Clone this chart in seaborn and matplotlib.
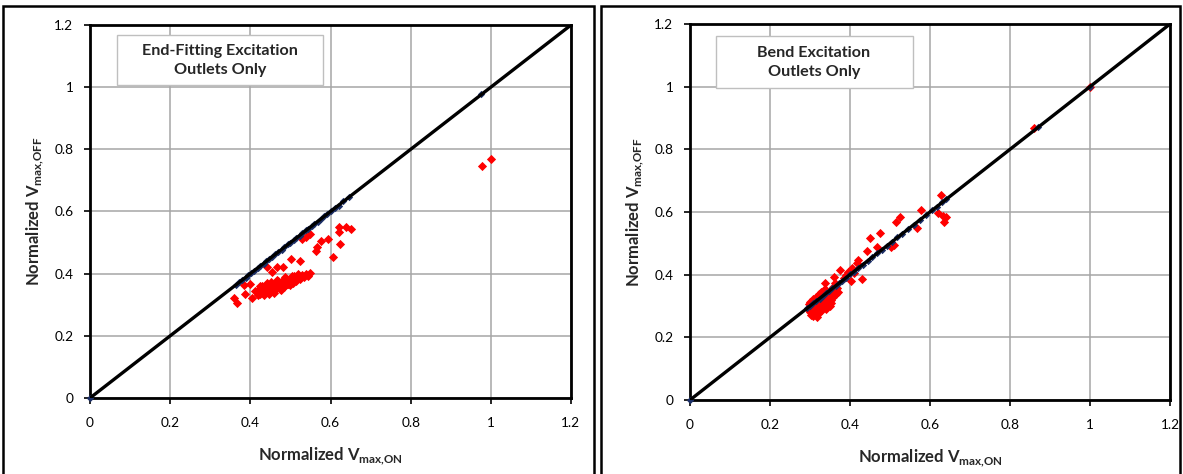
import numpy as np
import pandas as pd
import matplotlib
matplotlib.use("Agg")
import matplotlib.pyplot as plt
import matplotlib.patches as mpatches
import seaborn as sns

# ---------------- data ----------------
ticks = [0, 0.2, 0.4, 0.6, 0.8, 1, 1.2]
tick_labels = ["0", "0.2", "0.4", "0.6", "0.8", "1", "1.2"]

# Left panel: End-Fitting excitation
left_navy_x = [0.000, 0.365, 0.372, 0.380, 0.388, 0.395, 0.402, 0.410, 0.418, 0.425, 0.433,
               0.440, 0.447, 0.455, 0.462, 0.470, 0.478, 0.485, 0.493, 0.500, 0.508,
               0.515, 0.523, 0.530, 0.538, 0.545, 0.553, 0.560, 0.568, 0.576, 0.584,
               0.592, 0.600, 0.610, 0.620, 0.632, 0.645, 0.975]
left_navy_y = [0.000, 0.364, 0.373, 0.381, 0.387, 0.396, 0.403, 0.409, 0.419, 0.426, 0.432,
               0.441, 0.448, 0.454, 0.463, 0.471, 0.477, 0.486, 0.494, 0.499, 0.509,
               0.516, 0.522, 0.531, 0.539, 0.544, 0.554, 0.561, 0.567, 0.577, 0.585,
               0.591, 0.601, 0.611, 0.619, 0.633, 0.646, 0.978]

left_red_x = [0.359, 0.366, 0.383, 0.387, 0.399, 0.405, 0.412,
              0.418, 0.421, 0.424, 0.427, 0.430, 0.432, 0.435, 0.437, 0.440, 0.442, 0.445, 0.447, 0.450,
              0.420, 0.425, 0.428, 0.433, 0.438, 0.441, 0.446, 0.449, 0.452, 0.455,
              0.452, 0.456, 0.459, 0.462, 0.465, 0.468, 0.471, 0.474, 0.477, 0.480,
              0.458, 0.463, 0.467, 0.472, 0.476, 0.481, 0.485, 0.489, 0.493, 0.497,
              0.483, 0.487, 0.491, 0.495, 0.499, 0.503, 0.507, 0.511, 0.515, 0.519,
              0.505, 0.510, 0.515, 0.520, 0.525, 0.530, 0.535, 0.540, 0.545, 0.549,
              0.434, 0.444, 0.451, 0.461, 0.470, 0.479, 0.488, 0.496, 0.504, 0.512,
              0.441, 0.455, 0.466, 0.482, 0.501, 0.524, 0.539, 0.549, 0.528,
              0.563, 0.566, 0.576, 0.595, 0.607, 0.620, 0.621, 0.624, 0.639, 0.651,
              0.978, 1.000]
left_red_y = [0.323, 0.305, 0.364, 0.335, 0.366, 0.321, 0.345,
              0.342, 0.352, 0.335, 0.348, 0.360, 0.338, 0.355, 0.346, 0.362, 0.340, 0.357, 0.349, 0.365,
              0.330, 0.361, 0.344, 0.332, 0.350, 0.370, 0.336, 0.358, 0.344, 0.352,
              0.372, 0.360, 0.348, 0.366, 0.355, 0.375, 0.362, 0.350, 0.370, 0.358,
              0.338, 0.352, 0.380, 0.364, 0.346, 0.372, 0.360, 0.384, 0.368, 0.376,
              0.356, 0.388, 0.366, 0.378, 0.362, 0.382, 0.370, 0.390, 0.376, 0.386,
              0.372, 0.393, 0.380, 0.398, 0.384, 0.396, 0.388, 0.400, 0.394, 0.402,
              0.353, 0.344, 0.368, 0.354, 0.366, 0.378, 0.373, 0.381, 0.391, 0.383,
              0.422, 0.405, 0.422, 0.422, 0.446, 0.441, 0.519, 0.528, 0.512,
              0.474, 0.485, 0.505, 0.512, 0.453, 0.551, 0.535, 0.495, 0.551, 0.543,
              0.746, 0.769]

# Right panel: Bend excitation
right_navy_x = [0.000, 0.292, 0.300, 0.308, 0.316, 0.324, 0.332, 0.340, 0.348, 0.356, 0.364,
                0.372, 0.380, 0.390, 0.400, 0.410, 0.420, 0.432, 0.444, 0.456, 0.468,
                0.480, 0.492, 0.505, 0.518, 0.530, 0.545, 0.560, 0.575, 0.590, 0.605,
                0.618, 0.630, 0.640, 0.870, 1.000]
right_navy_y = [0.000, 0.293, 0.299, 0.309, 0.317, 0.323, 0.333, 0.341, 0.347, 0.357, 0.363,
                0.373, 0.381, 0.389, 0.401, 0.409, 0.421, 0.431, 0.445, 0.455, 0.469,
                0.479, 0.493, 0.504, 0.519, 0.529, 0.546, 0.559, 0.576, 0.589, 0.606,
                0.617, 0.631, 0.641, 0.870, 1.000]

right_red_x = [0.296, 0.299, 0.301, 0.303, 0.305, 0.307, 0.309, 0.311, 0.313, 0.315,
               0.317, 0.319, 0.298, 0.302, 0.306, 0.310, 0.314, 0.318, 0.321, 0.324,
               0.322, 0.326, 0.328, 0.331, 0.333, 0.336, 0.338, 0.341, 0.343, 0.346,
               0.348, 0.351, 0.327, 0.334, 0.339, 0.344, 0.349, 0.353, 0.330, 0.337,
               0.355, 0.358, 0.361, 0.364, 0.367, 0.370, 0.357, 0.363,
               0.300, 0.308, 0.316, 0.323, 0.329, 0.312, 0.319, 0.342, 0.347, 0.352,
               0.3375, 0.360, 0.375, 0.402, 0.429, 0.417, 0.421, 0.443, 0.467, 0.502,
               0.511, 0.475, 0.514, 0.525, 0.567, 0.577, 0.621, 0.628, 0.633, 0.639,
               0.635, 0.395, 0.405, 0.410, 0.385, 0.390, 0.450, 0.860, 1.000]
right_red_y = [0.292, 0.280, 0.300, 0.272, 0.288, 0.268, 0.296, 0.278, 0.285, 0.270,
               0.292, 0.276, 0.305, 0.283, 0.310, 0.290, 0.300, 0.265, 0.286, 0.298,
               0.310, 0.296, 0.322, 0.305, 0.330, 0.300, 0.316, 0.338, 0.310, 0.326,
               0.318, 0.335, 0.345, 0.352, 0.292, 0.305, 0.300, 0.320, 0.286, 0.355,
               0.340, 0.328, 0.350, 0.338, 0.356, 0.345, 0.362, 0.372,
               0.312, 0.322, 0.330, 0.337, 0.343, 0.275, 0.282, 0.316, 0.331, 0.309,
               0.372, 0.392, 0.415, 0.381, 0.385, 0.436, 0.447, 0.477, 0.487, 0.487,
               0.495, 0.534, 0.567, 0.583, 0.548, 0.606, 0.596, 0.654, 0.588, 0.585,
               0.567, 0.410, 0.420, 0.405, 0.390, 0.400, 0.517, 0.868, 1.000]

diag = [0, 1.2]

titles = ["End-Fitting Excitation\nOutlets Only", "Bend Excitation\nOutlets Only"]
xlabel = r"Normalized V$_\mathregular{max{,}ON}$"
ylabel = r"Normalized V$_\mathregular{max{,}OFF}$"

# ---------------- style ----------------
sns.set_theme(style="white")
FONT = ["Lato", "DejaVu Sans"]
plt.rcParams["font.family"] = FONT

RED = "#ff0000"
NAVY = "#1c2f66"
GRID = "#a6a6a6"

W, H = 1183, 474
fig = plt.figure(figsize=(W / 100, H / 100), dpi=100)

# panel borders (figure pixels)
def fig_rect(x0, y0, x1, y1):
    r = mpatches.Rectangle((x0 / W, 1 - y1 / H), (x1 - x0) / W, (y1 - y0) / H,
                           transform=fig.transFigure, fill=False, edgecolor="black",
                           linewidth=1.8, zorder=0)
    fig.patches.append(r)

fig_rect(3, 6, 594, 490)
fig_rect(601, 6, 1180, 490)

axes_px = [(90, 25, 571, 398), (690, 24, 1170, 400)]
box_frac = [(0.056, 0.839, 0.484, 0.973), (0.054, 0.830, 0.465, 0.968)]
text_frac = [(0.27, 0.905), (0.258, 0.898)]
data = [
    (left_navy_x, left_navy_y, left_red_x, left_red_y),
    (right_navy_x, right_navy_y, right_red_x, right_red_y),
]

for i, (x0, y0, x1, y1) in enumerate(axes_px):
    ax = fig.add_axes([x0 / W, 1 - y1 / H, (x1 - x0) / W, (y1 - y0) / H])
    nx, ny, rx, ry = data[i]
    red_df = pd.DataFrame({"on": rx, "off": ry})
    navy_df = pd.DataFrame({"on": nx, "off": ny})
    sns.scatterplot(data=red_df, x="on", y="off", ax=ax, marker="D", s=22,
                    color=RED, linewidth=0, zorder=3, clip_on=False)
    sns.scatterplot(data=navy_df, x="on", y="off", ax=ax, marker="D", s=14,
                    color=NAVY, linewidth=0, zorder=4, clip_on=False)
    sns.lineplot(x=diag, y=diag, ax=ax, color="black", linewidth=2.4, zorder=5)

    ax.set_xlim(0, 1.2)
    ax.set_ylim(0, 1.2)
    ax.set_xticks(ticks)
    ax.set_yticks(ticks)
    ax.set_xticklabels(tick_labels)
    ax.set_yticklabels(tick_labels)
    ax.grid(True, color=GRID, linewidth=1.1, zorder=0)
    ax.set_axisbelow(True)
    for sp in ax.spines.values():
        sp.set_visible(True)
        sp.set_color("black")
        sp.set_linewidth(2.0)
    ax.tick_params(axis="both", which="major", direction="out", length=4, width=1.2,
                   color="black", labelsize=9.8, labelcolor="black",
                   bottom=True, left=True)
    ax.tick_params(axis="x", pad=10)
    ax.tick_params(axis="y", pad=8)
    ax.set_xlabel(xlabel, fontsize=12, fontweight="bold", labelpad=12)
    ax.set_ylabel(ylabel, fontsize=12, fontweight="bold", labelpad=6)

    bx0, by0, bx1, by1 = box_frac[i]
    ax.add_patch(mpatches.Rectangle((bx0, by0), bx1 - bx0, by1 - by0,
                                    transform=ax.transAxes, facecolor="white",
                                    edgecolor="#bfbfbf", linewidth=1.0, zorder=6))
    tx, ty = text_frac[i]
    ax.text(tx, ty, titles[i], transform=ax.transAxes, ha="center", va="center",
            fontsize=11.6, fontweight="bold", linespacing=1.4, zorder=7)

fig.savefig("out.png", dpi=100)
